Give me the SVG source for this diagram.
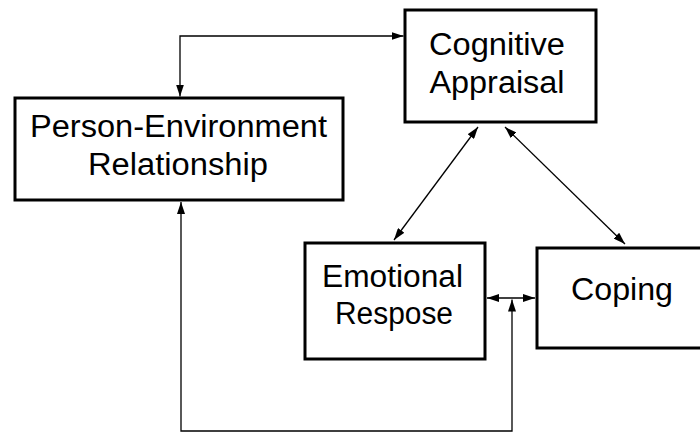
<svg xmlns="http://www.w3.org/2000/svg" width="700" height="432" viewBox="0 0 700 432">
  <style>
    .box { fill: #ffffff; stroke: #000000; stroke-width: 3; }
    .lbl { font-family: "Liberation Sans", Arial, Helvetica, sans-serif; font-size: 31px; fill: #000000; text-anchor: middle; }
    .conn { fill: none; stroke: #000000; stroke-width: 1.3; marker-start: url(#ah); marker-end: url(#ah); }
  </style>
  <defs>
    <marker id="ah" viewBox="0 0 12 8" refX="12" refY="4" markerWidth="12" markerHeight="8" markerUnits="userSpaceOnUse" orient="auto-start-reverse">
      <path d="M0,0 L12,4 L0,8 z" fill="#000000"/>
    </marker>
  </defs>
  <rect width="700" height="432" fill="#ffffff"/>
  <g id="connectors">
    <path class="conn" d="M180,96.5 L180,36 L403.5,36"/>
    <path class="conn" d="M478,127 L394,240"/>
    <path class="conn" d="M505,127 L625,244"/>
    <path class="conn" d="M487,298 L535,298"/>
    <path class="conn" d="M181,202 L181,431 L512,431 L512,299.5"/>
  </g>
  <g id="cognitive-appraisal">
    <rect class="box" x="405" y="10" width="191" height="112"/>
    <text class="lbl" x="497" y="55" textLength="136" lengthAdjust="spacingAndGlyphs">Cognitive</text>
    <text class="lbl" x="497" y="93" textLength="135" lengthAdjust="spacingAndGlyphs">Appraisal</text>
  </g>
  <g id="person-environment">
    <rect class="box" x="15" y="98" width="328" height="102"/>
    <text class="lbl" x="178.5" y="137" textLength="297" lengthAdjust="spacingAndGlyphs">Person-Environment</text>
    <text class="lbl" x="178" y="175" textLength="180" lengthAdjust="spacingAndGlyphs">Relationship</text>
  </g>
  <g id="emotional-response">
    <rect class="box" x="305" y="243" width="180" height="116"/>
    <text class="lbl" x="392.5" y="287" textLength="141" lengthAdjust="spacingAndGlyphs">Emotional</text>
    <text class="lbl" x="394" y="324" textLength="118" lengthAdjust="spacingAndGlyphs">Respose</text>
  </g>
  <g id="coping">
    <rect class="box" x="537" y="248" width="170" height="100"/>
    <text class="lbl" x="622" y="300" textLength="102" lengthAdjust="spacingAndGlyphs">Coping</text>
  </g>
</svg>
